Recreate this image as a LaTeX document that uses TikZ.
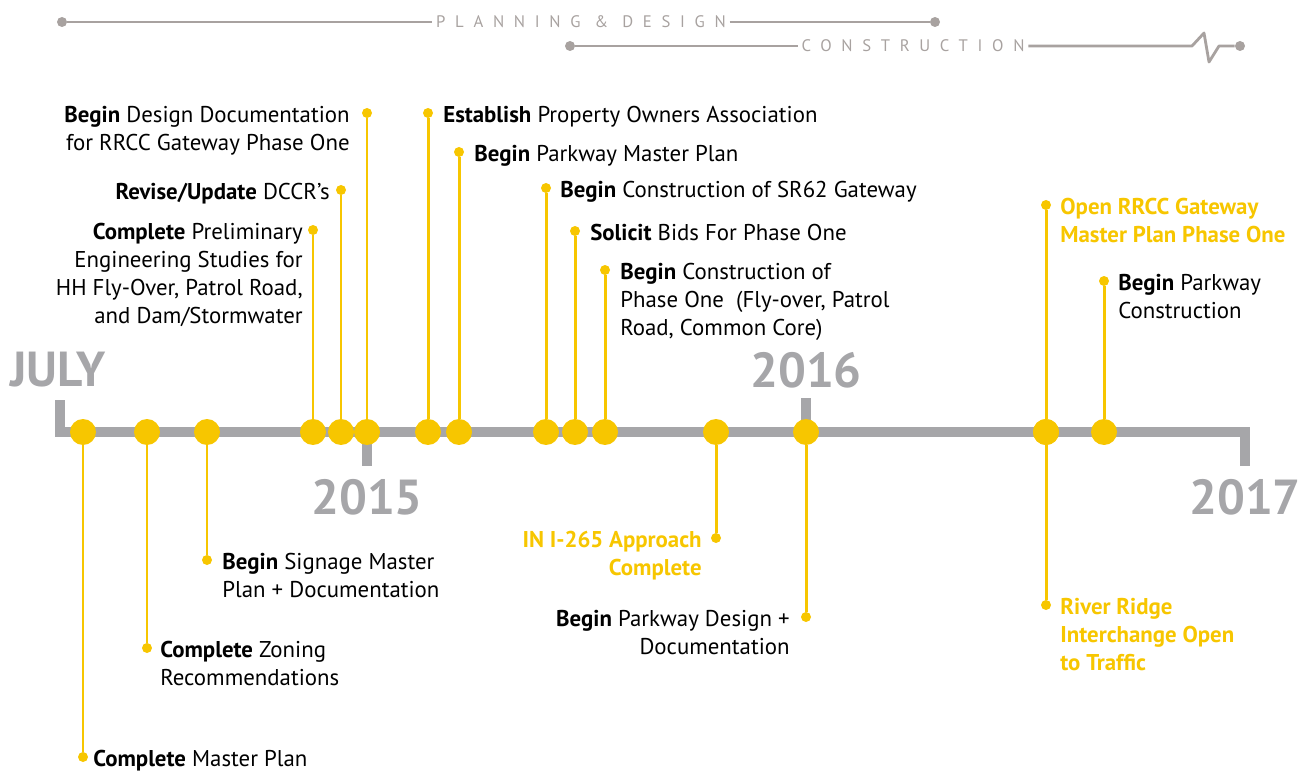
\documentclass[tikz,border=0pt]{standalone}
\usepackage{fontspec}
\setmainfont{PT Sans}
\usetikzlibrary{positioning}
\definecolor{bar}{HTML}{A6A6A9}
\definecolor{gold}{HTML}{F7C600}
\definecolor{hdr}{HTML}{A8A2A0}

\begin{document}
\begin{tikzpicture}[x=0.02cm,y=-0.02cm,
    dot/.style={circle,fill=gold,minimum size=0.52cm,inner sep=0},
    pin/.style={circle,fill=gold,minimum size=0.2cm,inner sep=0},
    knob/.style={circle,fill=hdr,minimum size=0.2cm,inner sep=0},
    stem/.style={gold,line width=1.7pt},
    axis/.style={bar,line width=5.5pt},
    hline/.style={hdr,line width=1.6pt},
    year/.style={text=bar,font=\fontsize{28}{30}\selectfont\bfseries,inner sep=0},
    phase/.style={text=hdr,inner sep=2pt,font=\fontsize{9.5}{10}\selectfont\addfontfeatures{LetterSpace=58}},
    lbl/.style={font=\fontsize{13}{16}\selectfont,inner sep=0},
    hot/.style={lbl,text=gold,font=\fontsize{13}{16}\selectfont\bfseries}]
  \useasboundingbox (0,0) rectangle (1314,773);

  % phases along the top
  \node[knob] (pd0) at (62,22) {};
  \node[knob] (pd1) at (935,22) {};
  \node[phase] (pdt) at (581,22) {PLANNING \& DESIGN};
  \draw[hline] (pd0) -- (pdt.west);
  \draw[hline] (pdt.east) -- (pd1);
  \node[knob] (cn0) at (570,46) {};
  \node[knob] (cn1) at (1240,46) {};
  \node[phase] (cnt) at (913,46) {CONSTRUCTION};
  \coordinate (zz) at (1192,46);
  \draw[hline] (cn0) -- (cnt.west);
  \draw[hline,line join=round] (cnt.east) -- (zz) -- (1204,33) -- (1209,62) -- (1219,46) -- (cn1);

  % time axis
  \coordinate (jul) at (60,400);
  \coordinate (end) at (1245,466);
  \draw[axis] (jul) -- (60,432) -- (1245,432) -- (end);
  \draw[axis] (367,432) -- (367,466);
  \draw[axis] (806,432) -- (806,398);
  \node[year] (y14) at (58,370) {JULY};
  \node[year] (y15) at (367,497) {2015};
  \node[year] (y16) at (806,370) {2016};
  \node[year] (y17) at (1245,497) {2017};

  % milestones: x / end of stem / name
  \foreach \x/\y/\n in {83/757/a,147/648/b,207/560/c,313/230/d,341/190/e,
      367/113/f,428/113/g,459/152/h,546/188/i,575/231/j,605/270/k,
      716/538/l,806/617/m,1046/605/n,1046/205/o,1104/281/p}{
    \node[dot] (d\n) at (\x,432) {};
    \node[pin] (p\n) at (\x,\y) {};
    \draw[stem] (d\n) -- (p\n);
  }

  % below the axis
  \node[lbl,anchor=north west] (ta) at (93,750) {\textbf{Complete} Master Plan};
  \node[lbl,anchor=north west,align=left] (tb) at (160,641) {\textbf{Complete} Zoning\\Recommendations};
  \node[lbl,anchor=north west,align=left] (tc) at (222,553) {\textbf{Begin} Signage Master\\Plan + Documentation};
  \node[hot,anchor=north east,align=right] (tl) at (702,531) {IN I-265 Approach\\Complete};
  \node[lbl,anchor=north east,align=right] (tm) at (790,610) {\textbf{Begin} Parkway Design +\\Documentation};
  \node[hot,anchor=north west,align=left] (tn) at (1060,598) {River Ridge\\Interchange Open\\to Traffic};

  % above the axis
  \node[lbl,anchor=north east,align=right] (td) at (303,223) {\textbf{Complete} Preliminary\\Engineering Studies for\\HH Fly-Over, Patrol Road,\\and Dam/Stormwater};
  \node[lbl,anchor=north east] (te) at (330,183) {\textbf{Revise/Update} DCCR's};
  \node[lbl,anchor=north east,align=right] (tf) at (350,106) {\textbf{Begin} Design Documentation\\for RRCC Gateway Phase One};
  \node[lbl,anchor=north west] (tg) at (443,106) {\textbf{Establish} Property Owners Association};
  \node[lbl,anchor=north west] (th) at (474,145) {\textbf{Begin} Parkway Master Plan};
  \node[lbl,anchor=north west] (ti) at (560,181) {\textbf{Begin} Construction of SR62 Gateway};
  \node[lbl,anchor=north west] (tj) at (590,224) {\textbf{Solicit} Bids For Phase One};
  \node[lbl,anchor=north west,align=left] (tk) at (620,263) {\textbf{Begin} Construction of\\Phase One~ (Fly-over, Patrol\\Road, Common Core)};
  \node[hot,anchor=north west,align=left] (to) at (1060,198) {Open RRCC Gateway\\Master Plan Phase One};
  \node[lbl,anchor=north west,align=left] (tp) at (1118,274) {\textbf{Begin} Parkway\\Construction};
\end{tikzpicture}
\end{document}
